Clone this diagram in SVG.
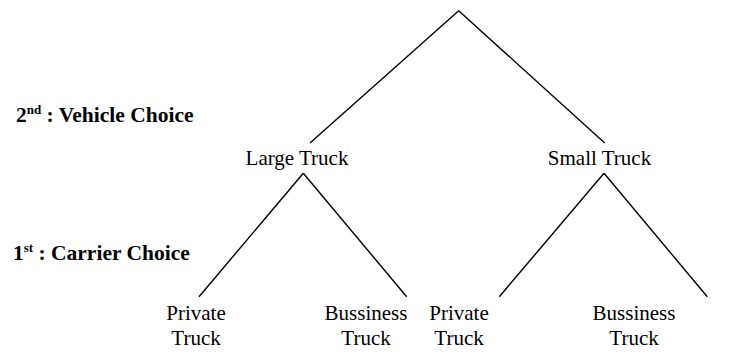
<svg xmlns="http://www.w3.org/2000/svg" width="741" height="352" viewBox="0 0 741 352">
<style>
.t{font-family:"Liberation Serif","Times New Roman",serif;font-size:21px;fill:#000;text-anchor:middle}
.b{font-family:"Liberation Serif","Times New Roman",serif;font-size:21.5px;font-weight:bold;fill:#000}
.s{font-size:13px}
line{stroke:#000;stroke-width:1.4}
</style>
<rect width="741" height="352" fill="#fff"/>
<g id="connectors">
<line x1="458.7" y1="10.7" x2="310" y2="143"/>
<line x1="458.7" y1="10.7" x2="604.7" y2="143"/>
<line x1="303.3" y1="173.3" x2="199" y2="296.7"/>
<line x1="303.3" y1="173.3" x2="406.7" y2="296.7"/>
<line x1="604" y1="173.3" x2="499.3" y2="296.7"/>
<line x1="604" y1="173.3" x2="707.3" y2="296.7"/>
</g>
<g id="level2"><text class="b" x="16" y="121.7">2<tspan class="s" dy="-8">nd</tspan><tspan dy="8"> : Vehicle Choice</tspan></text></g>
<g id="level1"><text class="b" x="13" y="260">1<tspan class="s" dy="-8">st</tspan><tspan dy="8"> : Carrier Choice</tspan></text></g>
<g id="large"><text class="t" x="297" y="165">Large Truck</text></g>
<g id="small"><text class="t" x="599.5" y="165">Small Truck</text></g>
<g id="lp"><text class="t" x="196" y="320">Private</text><text class="t" x="196" y="345">Truck</text></g>
<g id="lb"><text class="t" x="366" y="320">Bussiness</text><text class="t" x="366" y="345">Truck</text></g>
<g id="sp"><text class="t" x="459" y="320">Private</text><text class="t" x="459" y="345">Truck</text></g>
<g id="sb"><text class="t" x="634" y="320">Bussiness</text><text class="t" x="634" y="345">Truck</text></g>
</svg>
